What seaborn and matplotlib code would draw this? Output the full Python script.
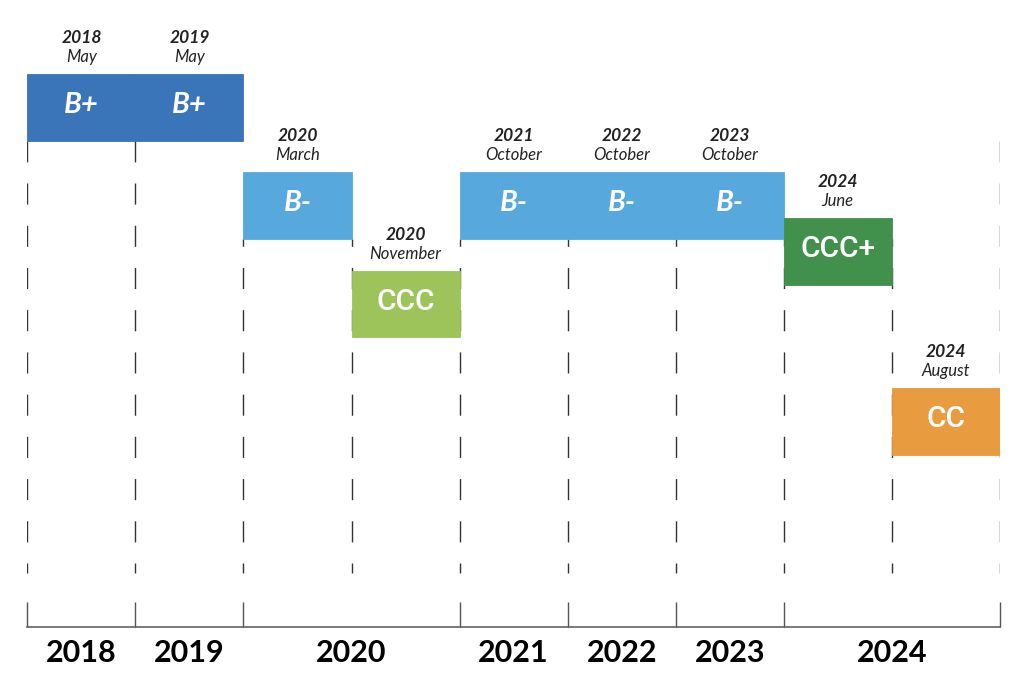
import matplotlib
matplotlib.use("Agg")
import matplotlib.pyplot as plt
import seaborn as sns
import numpy as np


# Data
event_years = ["2018", "2019", "2020", "2020", "2021", "2022", "2023", "2024", "2024"]
event_months = ["May", "May", "March", "November", "October", "October", "October", "June", "August"]
event_ratings = ["B+", "B+", "B-", "CCC", "B-", "B-", "B-", "CCC+", "CC"]
# vertical level of each rating row (1 unit ~ one notch)
rating_level = {"B+": 0.0, "B-": 2.0, "CCC+": 2.94, "CCC": 4.02, "CC": 6.41}
axis_years = ["2018", "2019", "2020", "2021", "2022", "2023", "2024"]
# rating row where each vertical guide begins (left edge of each column, then the right end)
guide_from = ["B+", "B+", "B-", "B-", "B-", "B-", "B-", "B-", "B-", "B+"]


# Style
sns.set_style("white")
plt.rcParams["font.family"] = ["Lato", "DejaVu Sans"]
plt.rcParams["lines.scale_dashes"] = False

rating_colors = {
    "B+": "#3A74B9",
    "B-": "#56A8DD",
    "CCC+": "#41914D",
    "CCC": "#9CC45A",
    "CC": "#E89B3F",
}
text_dark = "#222222"
line_grey = "#555555"

px_per_unit = 49.0
top_px = 74.0
axis_px = 627.0
bar_h = 66.5 / px_per_unit

fig = plt.figure(figsize=(10.24, 6.87), dpi=100, facecolor="white")
ax = fig.add_axes([27.4 / 1024, (687 - axis_px) / 687, 972.4 / 1024, axis_px / 687])
ax.set_facecolor("white")

n = len(event_years)
level = np.array([rating_level[r] for r in event_ratings])
x_mid = np.arange(n) + 0.5

ax.set_xlim(0, n)
ax.set_ylim((axis_px - top_px) / px_per_unit, -top_px / px_per_unit)


# Dashed guides (behind bars)
dash_end = (573 - top_px) / px_per_unit
for b, r in enumerate(guide_from):
    start = rating_level[r] + bar_h
    ax.plot([b, b], [dash_end, start], color="#333333", lw=1.0,
            linestyle=(8.0, (15.2, 15.2)), zorder=1, solid_capstyle="butt")


# Bars
for i in range(n):
    c = rating_colors[event_ratings[i]]
    ax.bar(x_mid[i], bar_h, bottom=level[i], width=1.0, color=c,
           edgecolor=c, linewidth=0.6, zorder=2)

    if event_ratings[i].startswith("B"):
        ax.text(x_mid[i], level[i] + bar_h / 2 - 0.04, event_ratings[i],
                ha="center", va="center", color="white", fontsize=21,
                fontweight="bold", fontstyle="italic", zorder=3)
    else:
        ax.text(x_mid[i], level[i] + bar_h / 2 - 0.04, event_ratings[i],
                ha="center", va="center", color="white", fontsize=21.5,
                family=["Roboto", "Lato"], fontweight="medium", zorder=3)

    ax.annotate(event_years[i], xy=(x_mid[i], level[i]), xytext=(0, 22.3),
                textcoords="offset points", ha="center", va="baseline",
                fontsize=12.5, fontweight="bold", fontstyle="italic", color=text_dark)
    ax.annotate(event_months[i], xy=(x_mid[i], level[i]), xytext=(0, 8.6),
                textcoords="offset points", ha="center", va="baseline",
                fontsize=12, fontstyle="italic", color=text_dark)


# Bottom axis: year labels and year boundaries
counts = [event_years.count(y) for y in axis_years]
edges = np.concatenate([[0], np.cumsum(counts)])
centers = (edges[:-1] + edges[1:]) / 2

ax.set_xticks(centers)
ax.set_xticklabels(axis_years)
ax.set_xticks(edges, minor=True)
ax.tick_params(axis="x", which="both", bottom=True)
ax.tick_params(axis="x", which="major", length=0, pad=9, labelsize=22,
               labelcolor="black")
ax.tick_params(axis="x", which="minor", direction="in", length=18, width=1.0,
               color=line_grey)
for lab in ax.get_xticklabels():
    lab.set_fontweight("bold")
ax.set_yticks([])

for s in ["top", "left", "right"]:
    ax.spines[s].set_visible(False)
ax.spines["bottom"].set_color(line_grey)
ax.spines["bottom"].set_linewidth(1.1)

fig.savefig("out.png", dpi=100, facecolor="white")
